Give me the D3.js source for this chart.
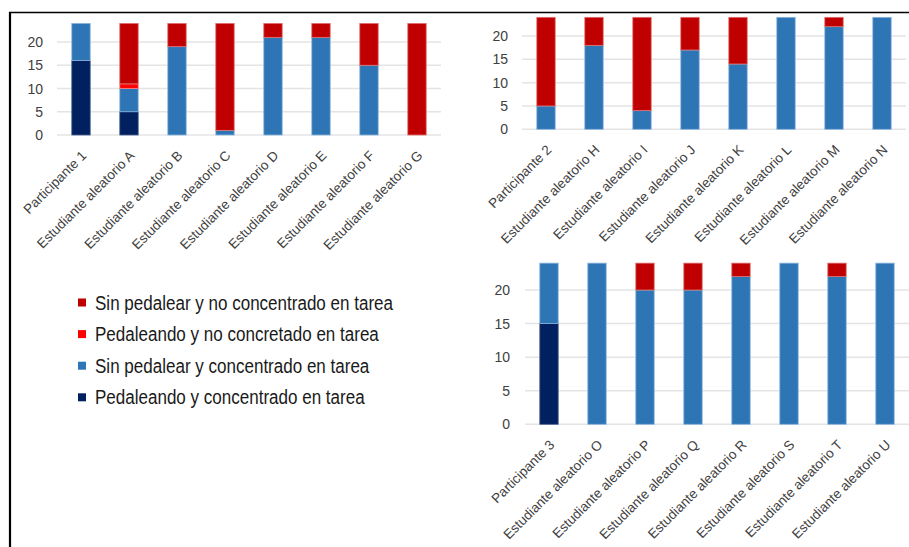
<!DOCTYPE html>
<html>
<head>
<meta charset="utf-8">
<script src="https://cdn.jsdelivr.net/npm/d3@7"></script>
<style>
  html, body { margin: 0; padding: 0; background: #fff; }
  svg { display: block; }
  text { font-family: "Liberation Sans", Arial, sans-serif; }
</style>
</head>
<body>
<svg id="chart" width="909" height="547"></svg>
<script>
// ---------- data ----------
const seriesKeys = ["pedConc", "sinConc", "pedNoConc", "sinNoConc"];
const seriesNames = [
  "Pedaleando y concentrado en tarea",
  "Sin pedalear y concentrado en tarea",
  "Pedaleando y no concretado en tarea",
  "Sin pedalear y no concentrado en tarea"
];
const yTicks = [0, 5, 10, 15, 20];

const categories1 = ["Participante 1", "Estudiante aleatorio A", "Estudiante aleatorio B", "Estudiante aleatorio C",
  "Estudiante aleatorio D", "Estudiante aleatorio E", "Estudiante aleatorio F", "Estudiante aleatorio G"];
const c1PedConc   = [16, 5, 0, 0, 0, 0, 0, 0];
const c1SinConc   = [8, 5, 19, 1, 21, 21, 15, 0];
const c1PedNoConc = [0, 1, 0, 0, 0, 0, 0, 0];
const c1SinNoConc = [0, 13, 5, 23, 3, 3, 9, 24];

const categories2 = ["Participante 2", "Estudiante aleatorio H", "Estudiante aleatorio I", "Estudiante aleatorio J",
  "Estudiante aleatorio K", "Estudiante aleatorio L", "Estudiante aleatorio M", "Estudiante aleatorio N"];
const c2PedConc   = [0, 0, 0, 0, 0, 0, 0, 0];
const c2SinConc   = [5, 18, 4, 17, 14, 24, 22, 24];
const c2PedNoConc = [0, 0, 0, 0, 0, 0, 0, 0];
const c2SinNoConc = [19, 6, 20, 7, 10, 0, 2, 0];

const categories3 = ["Participante 3", "Estudiante aleatorio O", "Estudiante aleatorio P", "Estudiante aleatorio Q",
  "Estudiante aleatorio R", "Estudiante aleatorio S", "Estudiante aleatorio T", "Estudiante aleatorio U"];
const c3PedConc   = [15, 0, 0, 0, 0, 0, 0, 0];
const c3SinConc   = [9, 24, 20, 20, 22, 24, 22, 24];
const c3PedNoConc = [0, 0, 0, 0, 0, 0, 0, 0];
const c3SinNoConc = [0, 0, 4, 4, 2, 0, 2, 0];

// ---------- styles ----------
const colors = { pedConc: "#002060", sinConc: "#2e75b6", pedNoConc: "#ff0000", sinNoConc: "#c00000" };
const strokeColors = { pedConc: "#4a5f8f", sinConc: "#8bb6dc", pedNoConc: "#ff8080", sinNoConc: "#e07070" };

const svg = d3.select("#chart");

// frame
svg.append("line").attr("x1", 9).attr("x2", 909).attr("y1", 12.5).attr("y2", 12.5)
  .attr("stroke", "#000").attr("stroke-width", 1.6);
svg.append("line").attr("x1", 10).attr("x2", 10).attr("y1", 12).attr("y2", 547)
  .attr("stroke", "#000").attr("stroke-width", 2.2);

function toRows(cats, a, b, c, d) {
  return cats.map((cat, i) => ({ cat, pedConc: a[i], sinConc: b[i], pedNoConc: c[i], sinNoConc: d[i] }));
}

function drawChart(cfg) {
  const g = svg.append("g");
  const rows = toRows(cfg.cats, ...cfg.vals);
  const x = d3.scaleBand().domain(cfg.cats).range([cfg.x0, cfg.x1]).paddingInner(0.6).paddingOuter(0.3);
  const y = d3.scaleLinear().domain([0, 24]).range([cfg.y0, cfg.y0 - 24 * (cfg.y0 - cfg.y20) / 20]);

  // gridlines
  g.append("g").selectAll("line").data(yTicks).join("line")
    .attr("x1", cfg.x0).attr("x2", cfg.x1)
    .attr("y1", d => y(d)).attr("y2", d => y(d))
    .attr("stroke", "#e4e4e4").attr("stroke-width", 1.5);

  // y tick labels
  g.append("g").selectAll("text").data(yTicks).join("text")
    .attr("x", cfg.labelX).attr("y", d => y(d)).attr("dy", "0.36em")
    .attr("text-anchor", "end").attr("font-size", 14).attr("fill", "#404040")
    .text(d => d);

  // bars
  const stacked = d3.stack().keys(seriesKeys)(rows);
  g.append("g").selectAll("g").data(stacked).join("g")
    .attr("fill", s => colors[s.key])
    .attr("stroke", s => strokeColors[s.key])
    .attr("stroke-width", 0.8)
    .selectAll("rect").data(s => s.filter(d => d[1] - d[0] > 0)).join("rect")
    .attr("x", d => x(d.data.cat) + 0.4)
    .attr("width", x.bandwidth() - 0.8)
    .attr("y", d => y(d[1]))
    .attr("height", d => y(d[0]) - y(d[1]));

  // category labels
  g.append("g").selectAll("text").data(cfg.cats).join("text")
    .attr("transform", d => `translate(${x(d) + x.bandwidth() / 2 + 3},${cfg.y0 + 18}) rotate(-45)`)
    .attr("text-anchor", "end").attr("dy", "0.35em")
    .attr("font-size", 13.5).attr("fill", "#404040")
    .text(d => d);
}

drawChart({ cats: categories1, vals: [c1PedConc, c1SinConc, c1PedNoConc, c1SinNoConc],
  x0: 57, x1: 441, y0: 135, y20: 42, labelX: 43 });
drawChart({ cats: categories2, vals: [c2PedConc, c2SinConc, c2PedNoConc, c2SinNoConc],
  x0: 522, x1: 906, y0: 129.3, y20: 36, labelX: 508 });
drawChart({ cats: categories3, vals: [c3PedConc, c3SinConc, c3PedNoConc, c3SinNoConc],
  x0: 525, x1: 909, y0: 424.3, y20: 290, labelX: 510 });

// legend (reverse order: top of stack first)
const legendOrder = [3, 2, 1, 0];
const leg = svg.append("g");
const items = leg.selectAll("g").data(legendOrder).join("g")
  .attr("transform", (d, i) => `translate(78,${302.5 + i * 31.6})`);
items.append("rect").attr("x", 0).attr("y", -4).attr("width", 8).attr("height", 8)
  .attr("fill", d => colors[seriesKeys[d]]);
const texts = items.append("text").attr("x", 17).attr("dy", "0.36em")
  .attr("font-size", 19.5).attr("fill", "#1a1a1a")
  .text(d => seriesNames[d]);
// condense horizontally to match the reference width
const w0 = texts.nodes()[0].getComputedTextLength();
const factor = 298 / w0;
texts.each(function () {
  const w = this.getComputedTextLength();
  d3.select(this).attr("textLength", w * factor).attr("lengthAdjust", "spacingAndGlyphs");
});
</script>
</body>
</html>
